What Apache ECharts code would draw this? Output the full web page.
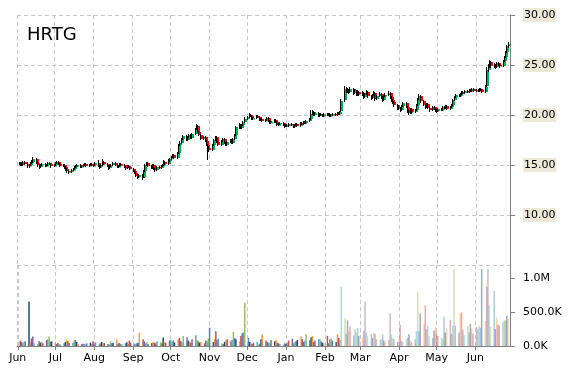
<!DOCTYPE html>
<html><head><meta charset="utf-8">
<script src="https://cdn.jsdelivr.net/npm/echarts@6/dist/echarts.min.js"></script>
<style>html,body{margin:0;padding:0;background:#fff}#c{width:570px;height:370px}</style>
</head><body><div id="c"></div><script>
const ticker = 'HRTG';
const firstTradingDay = '2024-06-03';
const lastTradingDay = '2025-06-27';
const axisStart = '2024-06-01';
const axisEnd = '2025-06-28';
const monthNames = ['Jan','Feb','Mar','Apr','May','Jun','Jul','Aug','Sep','Oct','Nov','Dec'];
const priceTicks = [5, 30, 5]; // min, max, step
const volumeTicks = [0, 1200000, 500000];

const opens = [
15.2,15.0,15.2,15.0,15.3,15.1,14.9,15.0,15.2,15.3,15.6,15.2,15.0,14.8,15.0,15.1,14.9,15.0,15.2,15.1,
14.9,15.0,15.2,15.3,15.1,14.9,15.0,14.8,14.6,14.4,14.3,14.5,14.6,14.8,14.9,15.0,14.8,14.9,15.0,15.1,14.9,15.0,15.1,
15.0,15.0,15.2,14.9,14.8,15.0,15.3,15.1,14.9,14.7,14.9,15.0,15.2,15.0,14.8,14.9,15.1,15.0,14.8,14.7,14.9,14.8,
14.6,14.4,14.2,13.9,13.8,14.0,13.8,14.4,15.0,15.2,14.9,14.7,15.0,14.6,14.5,14.8,14.7,14.9,15.0,15.3,15.1,
15.4,15.6,15.8,16.0,15.7,16.2,17.0,17.2,17.6,17.9,17.5,17.8,18.0,17.7,18.1,18.6,18.9,18.3,18.0,17.6,17.8,17.4,17.0,
16.7,16.5,17.0,17.5,17.8,17.3,17.0,17.4,17.6,17.2,17.0,17.3,17.5,17.2,17.6,18.0,18.8,19.0,18.7,19.0,19.3,
19.6,19.8,20.0,19.9,19.6,19.7,19.9,19.8,19.5,19.6,19.4,19.5,19.7,19.4,19.2,19.3,19.5,19.3,19.0,19.1,19.2,19.0,
18.9,19.0,18.9,19.1,19.0,18.8,19.0,19.1,18.9,19.2,19.1,19.3,19.2,19.4,19.6,20.1,20.3,20.0,20.2,19.9,20.1,20.0,19.9,
20.1,20.0,20.1,19.9,20.0,20.1,20.0,20.2,20.1,20.4,21.5,22.6,22.4,22.5,22.3,22.6,22.2,22.4,22.0,22.3,
22.1,22.2,21.8,22.1,22.3,21.9,21.7,22.0,22.2,21.6,21.9,22.1,21.8,21.5,21.9,22.0,22.2,21.8,21.5,21.3,21.0,
20.8,20.7,20.5,20.9,21.2,20.8,20.4,20.2,20.6,20.3,20.5,21.0,21.6,21.9,21.4,21.0,20.8,21.1,20.7,20.5,20.8,20.6,
20.5,20.4,20.6,20.5,20.8,20.7,20.9,20.6,20.8,21.0,21.5,21.8,22.0,21.9,22.1,22.3,22.2,22.4,22.3,22.5,22.4,22.6,
22.4,22.5,22.4,22.6,22.5,22.3,22.9,24.5,24.9,25.3,24.9,25.0,24.8,25.2,25.0,24.9,25.4,25.8,26.3,26.9
];
const closes = [
15.1,15.2,15.0,15.3,15.1,14.9,15.0,15.2,15.4,15.6,15.2,15.0,14.8,15.0,15.1,14.9,15.0,15.2,15.1,14.9,
15.0,15.2,15.3,15.1,14.9,15.0,14.7,14.6,14.4,14.3,14.5,14.6,14.8,14.9,15.0,14.8,14.9,15.0,15.1,14.9,15.0,15.1,15.0,
15.0,15.2,14.9,14.8,15.0,15.3,15.1,14.9,14.7,14.9,15.0,15.2,15.0,14.8,14.9,15.1,15.0,14.8,14.7,14.9,14.8,14.6,
14.4,14.2,13.9,13.8,14.0,13.7,14.4,15.0,15.2,14.9,14.7,15.0,14.6,14.5,14.8,14.7,14.9,15.0,15.3,15.1,15.4,
15.6,15.8,16.0,15.7,16.2,17.0,17.2,17.6,17.9,17.5,17.8,18.0,17.7,18.1,18.6,18.9,18.3,18.0,17.6,17.8,17.4,17.0,16.7,
16.5,17.0,17.5,17.8,17.3,17.0,17.4,17.6,17.2,17.0,17.3,17.5,17.2,17.6,18.0,18.8,19.0,18.7,19.0,19.3,19.6,
19.8,20.0,19.9,19.6,19.7,19.9,19.8,19.5,19.6,19.4,19.5,19.7,19.4,19.2,19.3,19.5,19.3,19.0,19.1,19.2,19.0,18.9,
19.0,18.9,19.1,19.0,18.8,19.0,19.1,18.9,19.2,19.1,19.3,19.2,19.4,19.6,20.1,20.3,20.0,20.2,19.9,20.1,20.0,19.9,20.1,
20.0,20.1,19.9,20.0,20.1,20.0,20.2,20.1,20.3,21.4,22.6,22.4,22.5,22.3,22.6,22.2,22.4,22.0,22.3,22.1,
22.2,21.8,22.1,22.3,21.9,21.7,22.0,22.2,21.6,21.9,22.1,21.8,21.5,21.9,22.0,22.2,21.8,21.5,21.3,21.0,20.8,
20.7,20.5,20.9,21.2,20.8,20.4,20.2,20.6,20.3,20.5,21.0,21.6,21.9,21.4,21.0,20.8,21.1,20.7,20.5,20.8,20.6,20.5,
20.4,20.6,20.5,20.8,20.7,20.9,20.6,20.8,21.0,21.5,21.8,22.0,21.9,22.1,22.3,22.2,22.4,22.3,22.5,22.4,22.6,22.4,
22.5,22.4,22.6,22.5,22.3,22.8,24.5,24.9,25.3,24.9,25.0,24.8,25.2,25.0,24.9,25.4,25.8,26.3,26.9,27.1
];
const lows = [
15.0,14.9,14.9,14.9,15.0,14.7,14.7,14.9,15.1,15.2,15.1,14.8,14.6,14.7,14.9,14.8,14.8,14.9,15.0,14.7,
14.8,14.9,15.1,15.0,14.8,14.8,14.6,14.4,14.2,14.1,14.2,14.4,14.5,14.7,14.8,14.7,14.7,14.8,14.9,14.8,14.8,14.9,14.9,
14.8,14.9,14.8,14.6,14.7,14.9,15.0,14.8,14.5,14.6,14.8,14.9,14.9,14.7,14.7,14.8,14.9,14.7,14.5,14.6,14.7,14.5,
14.3,14.1,13.8,13.6,13.7,13.5,13.7,14.3,14.9,14.8,14.6,14.6,14.5,14.3,14.4,14.6,14.6,14.8,14.9,15.0,15.0,
15.3,15.5,15.7,15.6,15.6,16.1,16.9,17.1,17.5,17.4,17.4,17.7,17.6,17.6,18.0,18.5,18.2,17.9,17.5,17.5,17.3,16.9,15.5,
16.3,16.4,16.9,17.4,17.2,16.9,16.9,17.3,17.1,16.9,16.9,17.2,17.1,17.1,17.5,17.9,18.6,18.6,18.6,18.9,19.2,
19.5,19.7,19.8,19.5,19.5,19.6,19.7,19.4,19.4,19.3,19.3,19.4,19.3,19.1,19.1,19.2,19.2,18.9,18.9,19.0,18.9,18.7,
18.8,18.8,18.8,18.9,18.7,18.7,18.9,18.8,18.8,19.0,19.0,19.1,19.1,19.3,19.5,20.0,19.9,19.9,19.8,19.8,19.9,19.8,19.8,
19.9,19.9,19.8,19.8,19.9,19.9,19.9,20.0,20.0,20.3,21.3,22.2,22.2,22.1,22.2,22.0,22.1,21.9,21.9,21.9,
21.9,21.6,21.7,22.0,21.7,21.5,21.6,21.9,21.4,21.5,21.8,21.6,21.3,21.4,21.8,21.9,21.6,21.3,21.1,20.8,20.5,
20.5,20.3,20.4,20.8,20.7,20.2,20.0,20.1,20.1,20.2,20.4,20.9,21.5,21.2,20.9,20.6,20.7,20.6,20.3,20.4,20.5,20.3,
20.2,20.3,20.4,20.4,20.6,20.6,20.5,20.5,20.7,20.9,21.4,21.7,21.8,21.8,22.0,22.1,22.1,22.2,22.2,22.3,22.3,22.3,
22.3,22.3,22.3,22.4,22.2,22.2,22.8,24.3,24.7,24.7,24.7,24.6,24.7,24.9,24.7,24.8,25.3,25.7,26.2,26.7
];
const highs = [
15.3,15.3,15.3,15.4,15.4,15.3,15.1,15.3,15.5,15.8,15.7,15.3,15.1,15.1,15.2,15.2,15.1,15.3,15.3,15.2,
15.1,15.3,15.4,15.4,15.2,15.1,15.1,14.9,14.7,14.5,14.6,14.7,14.9,15.0,15.1,15.1,15.0,15.1,15.2,15.2,15.1,15.2,15.2,
15.1,15.3,15.5,15.0,15.1,15.6,15.4,15.2,15.0,15.0,15.1,15.3,15.3,15.1,15.0,15.2,15.2,15.1,14.9,15.0,15.0,14.9,
14.7,14.5,14.3,14.1,14.1,14.1,14.5,15.1,15.3,15.3,15.0,15.1,15.1,14.7,14.9,14.9,15.0,15.1,15.5,15.4,15.6,
15.7,15.9,16.1,16.1,16.3,17.1,17.4,17.7,18.0,18.0,17.9,18.1,18.1,18.2,18.7,19.1,19.0,18.4,18.1,17.9,17.9,17.5,17.1,
16.9,17.1,17.6,17.9,17.9,17.4,17.5,17.7,17.7,17.3,17.4,17.6,17.6,17.7,18.1,18.9,19.2,19.1,19.1,19.4,19.8,
19.9,20.2,20.1,20.0,19.8,20.0,20.0,19.9,19.7,19.7,19.6,19.8,19.8,19.5,19.4,19.6,19.6,19.4,19.2,19.3,19.3,19.1,
19.1,19.1,19.2,19.2,19.1,19.1,19.2,19.2,19.3,19.3,19.4,19.4,19.5,19.7,20.5,20.5,20.4,20.3,20.3,20.2,20.2,20.1,20.2,
20.2,20.2,20.2,20.1,20.2,20.2,20.3,20.3,20.4,21.6,22.9,22.8,22.7,22.6,22.8,22.7,22.6,22.5,22.5,22.4,
22.4,22.3,22.2,22.5,22.4,22.0,22.1,22.4,22.3,22.0,22.3,22.2,21.9,22.0,22.2,22.4,22.3,21.9,21.6,21.4,21.1,
21.0,20.8,21.0,21.3,21.3,20.9,20.5,20.7,20.7,20.6,21.1,21.7,22.1,22.0,21.5,21.1,21.2,21.2,20.8,20.9,20.9,20.7,
20.6,20.7,20.7,20.9,20.9,21.0,21.0,20.9,21.1,21.6,21.9,22.1,22.1,22.2,22.4,22.4,22.5,22.5,22.6,22.6,22.7,22.7,
22.6,22.6,22.7,22.7,22.6,23.0,24.8,25.1,25.5,25.4,25.2,25.1,25.3,25.3,25.1,25.5,25.9,26.4,27.0,27.3
];
const volumes = [
80000,60000,40000,65000,70000,660000,50000,110000,140000,40000,30000,75000,50000,60000,40000,90000,100000,140000,60000,70000,
55000,30000,45000,30000,20000,40000,60000,95000,70000,45000,50000,80000,90000,60000,30000,25000,35000,30000,25000,40000,50000,30000,70000,
30000,55000,25000,40000,60000,35000,45000,30000,20000,70000,40000,50000,100000,35000,45000,30000,25000,40000,55000,30000,80000,50000,
35000,30000,40000,50000,195000,100000,70000,40000,55000,30000,45000,60000,50000,40000,70000,55000,40000,125000,60000,50000,80000,
90000,60000,80000,50000,100000,120000,70000,60000,150000,130000,80000,60000,50000,100000,160000,90000,70000,50000,60000,40000,80000,70000,110000,
270000,60000,100000,220000,90000,110000,40000,30000,60000,80000,100000,70000,90000,210000,120000,100000,70000,150000,190000,200000,640000,
120000,60000,40000,30000,50000,60000,20000,35000,100000,175000,80000,60000,50000,40000,90000,70000,90000,50000,40000,30000,20000,40000,
30000,50000,80000,110000,40000,60000,70000,90000,140000,100000,60000,80000,175000,90000,130000,150000,60000,80000,100000,100000,70000,50000,40000,
150000,40000,100000,110000,80000,60000,175000,120000,90000,880000,420000,180000,380000,220000,290000,160000,250000,200000,270000,150000,
130000,225000,660000,200000,150000,175000,120000,200000,180000,100000,90000,110000,175000,80000,60000,90000,480000,170000,120000,100000,60000,
100000,315000,80000,60000,100000,120000,175000,90000,60000,100000,225000,800000,220000,480000,330000,600000,250000,300000,150000,120000,230000,275000,
200000,150000,120000,100000,430000,200000,250000,390000,180000,300000,1140000,300000,200000,480000,500000,240000,160000,300000,200000,330000,260000,180000,
280000,250000,300000,270000,1140000,370000,880000,1140000,600000,280000,820000,250000,420000,320000,300000,350000,380000,380000,450000,400000
];

function parseDay(s){ const p = s.split('-').map(Number); return new Date(p[0], p[1]-1, p[2]); }
function weekdays(a, b){
  const out = []; const d = parseDay(a); const e = parseDay(b).getTime();
  while (d.getTime() <= e) { const w = d.getDay(); if (w !== 0 && w !== 6) out.push(d.getTime()); d.setDate(d.getDate()+1); }
  return out;
}
const dates = weekdays(firstTradingDay, lastTradingDay);
const n = Math.min(dates.length, closes.length);
const candleData = [], volData = [];
for (let i = 0; i < n; i++) {
  candleData.push([dates[i], opens[i], closes[i], lows[i], highs[i]]);
  volData.push([dates[i], volumes[i]]);
}
const palette = ['#C0504D','#8064A2','#4BACC6','#9BBB59','#4F81BD','#1F497D','#F79646'];
const paleFrom = dates.findIndex(t => t >= parseDay('2025-02-13').getTime());
const FONT = 'DejaVu Sans';
const gridDash = {color:'#c8c8c8', type:[4,3], width:1};

const chart = echarts.init(document.getElementById('c'), null, {renderer:'canvas'});
chart.setOption({
  animation:false,
  backgroundColor:'#fff',
  title:{text:ticker, left:22, top:21, textStyle:{fontFamily:FONT, fontSize:18, fontWeight:'normal', color:'#000'}},
  grid:[{left:17, right:60, top:15, height:250},{left:17, right:60, top:265, height:81}],
  xAxis:[
    {type:'time', gridIndex:0, min:parseDay(axisStart).getTime(), max:parseDay(axisEnd).getTime(),
     minInterval:28*864e5, maxInterval:31*864e5,
     axisLabel:{show:false}, axisTick:{show:false}, axisLine:{show:false},
     splitLine:{show:true, lineStyle:gridDash}},
    {type:'time', gridIndex:1, min:parseDay(axisStart).getTime(), max:parseDay(axisEnd).getTime(),
     minInterval:28*864e5, maxInterval:31*864e5,
     axisLabel:{show:true, formatter:v => monthNames[new Date(v).getMonth()], color:'#000', fontFamily:FONT, fontSize:11, margin:7, showMaxLabel:false},
     axisTick:{show:true, length:4, lineStyle:{color:'#808080'}},
     axisLine:{show:true, lineStyle:{color:'#808080'}},
     splitLine:{show:true, lineStyle:gridDash}}
  ],
  yAxis:[
    {type:'value', gridIndex:0, position:'right', min:priceTicks[0], max:priceTicks[1], interval:priceTicks[2],
     axisLine:{show:true, lineStyle:{color:'#808080'}}, axisTick:{show:true, length:5, lineStyle:{color:'#808080'}},
     axisLabel:{formatter:v => v.toFixed(2), showMinLabel:false, color:'#000', fontFamily:FONT, fontSize:11, margin:13,
       backgroundColor:'#ECE9D8', padding:[2,1,1,1]},
     splitLine:{show:true, lineStyle:gridDash}},
    {type:'value', gridIndex:1, position:'right', min:volumeTicks[0], max:volumeTicks[1], interval:volumeTicks[2],
     axisLine:{show:true, lineStyle:{color:'#808080'}}, axisTick:{show:true, length:5, lineStyle:{color:'#808080'}},
     axisLabel:{formatter:v => v >= 1e6 ? (v/1e6).toFixed(1)+'M' : (v/1e3).toFixed(1)+'K', showMaxLabel:false,
       color:'#000', fontFamily:FONT, fontSize:11, margin:13},
     splitLine:{show:false}}
  ],
  series:[
    {type:'custom', xAxisIndex:0, yAxisIndex:0, data:candleData, encode:{x:0, y:[1,2,3,4]},
     renderItem:function(params, api){
       const t = api.value(0), o = api.value(1), c = api.value(2), l = api.value(3), h = api.value(4);
       const pH = api.coord([t,h]), pL = api.coord([t,l]), pO = api.coord([t,o]), pC = api.coord([t,c]);
       const x = Math.round(pH[0]);
       const top = Math.min(pO[1], pC[1]), bot = Math.max(pO[1], pC[1]);
       return {type:'group', children:[
         {type:'rect', shape:{x:x-1, y:pH[1], width:1, height:Math.max(1,pL[1]-pH[1])}, style:{fill:'#000'}},
         {type:'rect', shape:{x:x, y:top, width:2, height:Math.max(1.5,bot-top)}, style:{fill:c>=o?'#00B050':'#FF0000'}}
       ]};
     }},
    {type:'bar', xAxisIndex:1, yAxisIndex:1, barWidth:1.5,
     data:volData.map((d,i) => ({value:d, itemStyle:{color:palette[i % palette.length], opacity: i >= paleFrom ? 0.45 : 1}}))}
  ]
});
</script></body></html>
